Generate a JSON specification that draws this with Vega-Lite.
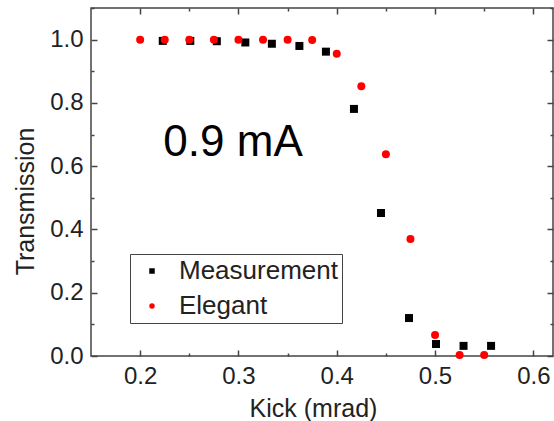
{
  "$schema": "https://vega.github.io/schema/vega-lite/v6.json",
  "width": 462,
  "height": 348,
  "autosize": {"type": "none"},
  "padding": {"left": 91, "top": 8, "right": 1, "bottom": 65},
  "background": "white",
  "config": {
    "view": {"stroke": "#444", "strokeWidth": 1.5},
    "font": "Liberation Sans",
    "axis": {"domain": false, "grid": false, "labelFont": "Liberation Sans", "titleFont": "Liberation Sans", "labelColor": "#222", "titleColor": "#222", "titleFontWeight": "normal", "tickColor": "#444", "tickWidth": 1.5}
  },
  "layer": [
    {
      "data": {
        "values": [
          {"kick": 0.223, "trans": 0.996, "series": "Measurement"},
          {"kick": 0.251, "trans": 0.996, "series": "Measurement"},
          {"kick": 0.278, "trans": 0.995, "series": "Measurement"},
          {"kick": 0.307, "trans": 0.991, "series": "Measurement"},
          {"kick": 0.334, "trans": 0.987, "series": "Measurement"},
          {"kick": 0.362, "trans": 0.980, "series": "Measurement"},
          {"kick": 0.389, "trans": 0.962, "series": "Measurement"},
          {"kick": 0.4175, "trans": 0.781, "series": "Measurement"},
          {"kick": 0.445, "trans": 0.452, "series": "Measurement"},
          {"kick": 0.4735, "trans": 0.120, "series": "Measurement"},
          {"kick": 0.501, "trans": 0.038, "series": "Measurement"},
          {"kick": 0.529, "trans": 0.032, "series": "Measurement"},
          {"kick": 0.557, "trans": 0.032, "series": "Measurement"},
          {"kick": 0.2, "trans": 1.0, "series": "Elegant"},
          {"kick": 0.225, "trans": 1.0, "series": "Elegant"},
          {"kick": 0.25, "trans": 1.0, "series": "Elegant"},
          {"kick": 0.275, "trans": 1.0, "series": "Elegant"},
          {"kick": 0.3, "trans": 1.0, "series": "Elegant"},
          {"kick": 0.325, "trans": 1.0, "series": "Elegant"},
          {"kick": 0.35, "trans": 1.0, "series": "Elegant"},
          {"kick": 0.375, "trans": 0.999, "series": "Elegant"},
          {"kick": 0.4, "trans": 0.955, "series": "Elegant"},
          {"kick": 0.425, "trans": 0.853, "series": "Elegant"},
          {"kick": 0.45, "trans": 0.638, "series": "Elegant"},
          {"kick": 0.475, "trans": 0.370, "series": "Elegant"},
          {"kick": 0.5, "trans": 0.066, "series": "Elegant"},
          {"kick": 0.525, "trans": 0.003, "series": "Elegant"},
          {"kick": 0.55, "trans": 0.003, "series": "Elegant"}
        ]
      },
      "mark": {"type": "point", "filled": true, "size": 64, "opacity": 1},
      "encoding": {
        "x": {
          "field": "kick", "type": "quantitative",
          "scale": {"domain": [0.15, 0.62], "nice": false, "zero": false},
          "axis": {
            "orient": "bottom",
            "title": "Kick (mrad)",
            "titleFontSize": 25,
            "titleX": 222, "titleY": 60, "titleBaseline": "alphabetic", "titleAlign": "center",
            "values": [0.2, 0.25, 0.3, 0.35, 0.4, 0.45, 0.5, 0.55, 0.6],
            "labelFontSize": 24,
            "labelExpr": "round(datum.value*20)%2==0 ? format(datum.value,'.1f') : ''",
            "labelPadding": 14,
            "tickSize": {"condition": {"test": "round(datum.value*20)%2==0", "value": -6}, "value": -3}
          }
        },
        "y": {
          "field": "trans", "type": "quantitative",
          "scale": {"domain": [0, 1.1], "nice": false},
          "axis": {
            "orient": "left",
            "title": "Transmission",
            "titleFontSize": 25,
            "titleX": -58, "titleY": 193, "titleBaseline": "alphabetic", "titleAngle": 270, "titleAlign": "center",
            "values": [0, 0.1, 0.2, 0.3, 0.4, 0.5, 0.6, 0.7, 0.8, 0.9, 1.0, 1.1],
            "labelFontSize": 24,
            "labelExpr": "round(datum.value*10)%2==0 ? format(datum.value,'.1f') : ''",
            "labelPadding": 14,
            "tickSize": {"condition": {"test": "round(datum.value*10)%2==0", "value": -6}, "value": -3}
          }
        },
        "color": {
          "field": "series", "type": "nominal",
          "scale": {"domain": ["Measurement", "Elegant"], "range": ["black", "#ff0000"]},
          "legend": {
            "title": null, "orient": "none", "legendX": 39, "legendY": 246,
            "strokeColor": "#444", "padding": 4,
            "labelFontSize": 26, "labelColor": "#222", "labelFont": "Liberation Sans",
            "symbolSize": 30, "symbolOffset": 5, "labelOffset": 14, "rowPadding": 9,
            "symbolStrokeWidth": 0
          }
        },
        "shape": {
          "field": "series", "type": "nominal",
          "scale": {"domain": ["Measurement", "Elegant"], "range": ["square", "circle"]}
        }
      }
    },
    {
      "data": {"values": [{"kick": 0.2945, "trans": 0.673, "label": "0.9 mA"}]},
      "mark": {"type": "text", "fontSize": 44, "font": "Liberation Sans", "color": "black", "align": "center", "baseline": "middle"},
      "encoding": {
        "x": {
          "field": "kick", "type": "quantitative",
          "axis": {
            "orient": "top", "title": null, "labels": false,
            "values": [0.2, 0.25, 0.3, 0.35, 0.4, 0.45, 0.5, 0.55, 0.6],
            "tickSize": {"condition": {"test": "round(datum.value*20)%2==0", "value": -6}, "value": -3}
          }
        },
        "y": {
          "field": "trans", "type": "quantitative",
          "axis": {
            "orient": "right", "title": null, "labels": false,
            "values": [0, 0.1, 0.2, 0.3, 0.4, 0.5, 0.6, 0.7, 0.8, 0.9, 1.0, 1.1],
            "tickSize": {"condition": {"test": "round(datum.value*10)%2==0", "value": -6}, "value": -3}
          }
        },
        "text": {"field": "label", "type": "nominal"}
      }
    }
  ],
  "resolve": {"axis": {"x": "independent", "y": "independent"}}
}
